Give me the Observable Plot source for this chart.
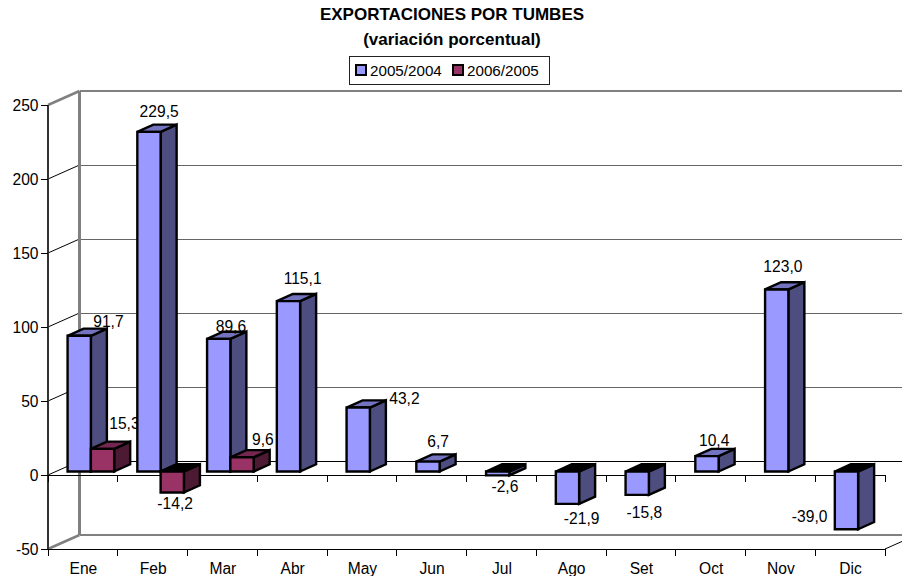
<!DOCTYPE html>
<html lang="es">
<head>
<meta charset="utf-8">
<script src="https://cdn.jsdelivr.net/npm/d3@7"></script>
<script src="https://cdn.jsdelivr.net/npm/@observablehq/plot@0.6"></script>
<style>
  html, body { margin: 0; padding: 0; background: #fff; }
  body { width: 902px; height: 576px; overflow: hidden; font-family: "Liberation Sans", Arial, sans-serif; color: #000; }
  #head { position: relative; height: 85px; }
  .t { position: absolute; left: 0; width: 904px; text-align: center; font-weight: bold; font-size: 17px; line-height: 20px; }
  #legend { position: absolute; left: 349px; top: 56px; width: 199px; height: 27px; border: 1px solid #222; font-size: 15.2px; line-height: 27px; }
  .sw { position: absolute; top: 7px; width: 8px; height: 8px; border: 2px solid #000; }
  .lb { position: absolute; top: 0; }
  svg { display: block; }
</style>
</head>
<body>
<div id="head">
  <div class="t" style="top:5px">EXPORTACIONES POR TUMBES</div>
  <div class="t" style="top:30px">(variación porcentual)</div>
  <div id="legend">
    <span class="sw" style="left:5px;background:#9999FF"></span><span class="lb" style="left:20px">2005/2004</span>
    <span class="sw" style="left:102px;background:#993366"></span><span class="lb" style="left:117px">2006/2005</span>
  </div>
</div>
<div id="chart"></div>
<script>
const months = ["Ene","Feb","Mar","Abr","May","Jun","Jul","Ago","Set","Oct","Nov","Dic"];
const series2005 = [91.7,229.5,89.6,115.1,43.2,6.7,-2.6,-21.9,-15.8,10.4,123.0,-39.0];
const series2006 = [15.3,-14.2,9.6,null,null,null,null,null,null,null,null,null];
const yTicks = [-50,0,50,100,150,200,250];

// Label nudges (px) relative to each bar's value anchor
const nudge2005 = [[25,-18],[6,-24],[8,-16],[10,-26],[42,-13],[6,-24],[3,8],[10,11],[3,14],[3,-19],[2,-26],[-41,-16]];
const nudge2006 = [[41,-29],[22,7],[40,-21]];

const fmt = v => v.toFixed(1).replace(".", ",");
const FONT = 15.6;
const WALL = [31.5, -14], DEPTH = [16, 7.2], SHIFT = [8, -3.5], BAR_W = 23.3;
const colors = {
  s1: {front:"#9999FF", side:"#4D4D80", top:"#7373BF"},
  s2: {front:"#993366", side:"#4D1A33", top:"#732650"}
};

function poly(g, pts, fill, stroke, w) {
  g.append("polygon").attr("points", pts.map(p => p.join(",")).join(" "))
    .attr("fill", fill).attr("stroke", stroke).attr("stroke-width", w).attr("stroke-linejoin", "miter");
}
function seg(g, x1, y1, x2, y2, stroke, w) {
  const l = g.append("line").attr("x1",x1).attr("y1",y1).attr("x2",x2).attr("y2",y2).attr("stroke",stroke).attr("stroke-width",w);
  if (x1 === x2 || y1 === y2) l.attr("shape-rendering", "crispEdges");
}

function walls(index, {x, y}) {
  const g = d3.create("svg:g");
  const bw = x(months[1]) - x(months[0]);
  const x0 = x(months[0]), x1 = x(months[11]) + bw;
  const [wx, wy] = WALL;
  for (const t of yTicks) {
    const edge = t === -50 || t === 250;
    seg(g, x0, y(t), x0 + wx, y(t) + wy, edge ? "#808080" : "#000", edge ? 2.5 : 1);
    seg(g, x0 + wx, y(t) + wy, 960, y(t) + wy, edge ? "#808080" : (t === 0 ? "#000" : "#666"), edge ? 2.5 : 1);
  }
  seg(g, x0 + wx, y(250) + wy, x0 + wx, y(-50) + wy, "#808080", 2.5);
  seg(g, x1, y(-50), x1 + wx, y(-50) + wy, "#000", 1);
  seg(g, x0, y(0), x1, y(0), "#000", 1);
  seg(g, x0, y(-50), x1, y(-50), "#000", 1);
  seg(g, x0, y(250), x0, y(-50), "#333", 2);
  for (let k = 0; k <= 12; k++) {
    const tx = x0 + k * bw;
    seg(g, tx, y(0), tx, y(0) + 7, "#000", 1);
    seg(g, tx, y(-50), tx, y(-50) + 7, "#000", 1);
  }
  return g.node();
}

function bars(index, {x, y}) {
  const g = d3.create("svg:g");
  const bw = x(months[1]) - x(months[0]);
  const draw = (k, slot, v, c) => {
    if (v == null) return;
    const l = x(months[k]) + SHIFT[0] + (bw - 2 * BAR_W) / 2 + slot * BAR_W;
    const r = l + BAR_W;
    const y0 = y(0) + SHIFT[1];
    const yv = y(v) + SHIFT[1];
    const top = Math.min(y0, yv), bot = Math.max(y0, yv);
    const [dx, dy] = DEPTH;
    poly(g, [[r,top],[r+dx,top-dy],[r+dx,bot-dy],[r,bot]], c.side, "#000", 2.4);
    poly(g, [[l,top],[l+dx,top-dy],[r+dx,top-dy],[r,top]], v < 0 ? "#000" : c.top, "#000", 2.4);
    poly(g, [[l,top],[r,top],[r,bot],[l,bot]], c.front, "#000", 2.4);
  };
  months.forEach((m, k) => {
    draw(k, 0, series2005[k], colors.s1);
    draw(k, 1, series2006[k], colors.s2);
  });
  return g.node();
}

const labelMark = (k, v, n) => Plot.text([k], {
  x: () => months[k], y: () => v, text: () => fmt(v),
  dx: n[0], dy: n[1], fontSize: FONT, fill: "#000"
});

const marks = [
  walls,
  ...nudge2006.map((n, k) => labelMark(k, series2006[k], n)),
  bars,
  ...nudge2005.map((n, k) => labelMark(k, series2005[k], n)),
  Plot.axisY(yTicks, {anchor: "left", tickSize: 7, tickPadding: 3, fontSize: FONT, fontVariant: "normal", label: null, tickFormat: d => String(d), stroke: "#000", fill: "#000"}),
  Plot.axisX(months, {anchor: "bottom", tickSize: 0, tickPadding: 13, fontSize: FONT, label: null, fill: "#000"})
];

const chart = Plot.plot({
  width: 902, height: 491,
  marginLeft: 48, marginRight: 17, marginTop: 20, marginBottom: 27,
  style: {fontFamily: '"Liberation Sans", Arial, sans-serif', fontSize: FONT + "px", background: "#fff", color: "#000"},
  x: {type: "band", domain: months, padding: 0, round: false, label: null},
  y: {type: "linear", domain: [-50, 250], nice: false, label: null},
  marks
});
document.getElementById("chart").appendChild(chart);
</script>
</body>
</html>
